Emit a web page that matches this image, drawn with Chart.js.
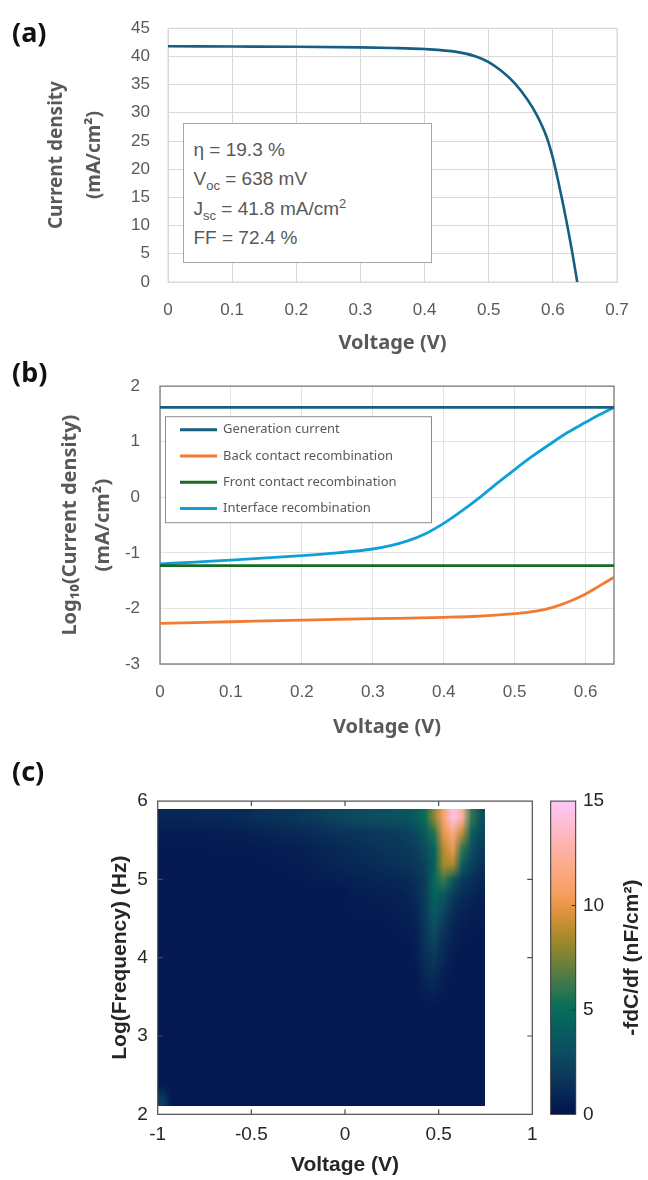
<!DOCTYPE html>
<html>
<head>
<meta charset="utf-8">
<script src="https://cdn.jsdelivr.net/npm/chart.js@4.4.1/dist/chart.umd.min.js"></script>
<style>
  html, body { margin: 0; padding: 0; background: #fff; }
  #page { position: relative; width: 648px; height: 1180px; overflow: hidden; }
  canvas { position: absolute; left: 0; }
  .lbl { position: absolute; left: 12px; font: bold 27px "Noto Sans", sans-serif; color: #111; line-height: 1; }
  #box {
    position: absolute; left: 183px; top: 123px; width: 249px; height: 140px;
    box-sizing: border-box; border: 1.5px solid #a6a6a6; background: #fff;
    color: #595959; font: 19px "Liberation Sans", Arial, sans-serif; line-height: 29.3px;
    padding: 11px 0 0 9.5px; white-space: nowrap;
  }
  #box sub { font-size: 13px; line-height: 0; vertical-align: -5px; }
  #box sup { font-size: 13px; line-height: 0; vertical-align: 7px; }
</style>
</head>
<body>
<div id="page">
  <canvas id="chartA" width="648" height="356" style="top:0"></canvas>
  <canvas id="chartB" width="648" height="383" style="top:356px"></canvas>
  <canvas id="chartC" width="648" height="441" style="top:739px"></canvas>
  <div class="lbl" style="top:18px">(a)</div>
  <div class="lbl" style="top:358px">(b)</div>
  <div class="lbl" style="top:757px">(c)</div>
  <div id="box">η = 19.3 %<br>V<sub>oc</sub> = 638 mV<br>J<sub>sc</sub> = 41.8 mA/cm<sup>2</sup><br>FF = 72.4 %</div>
</div>
<script>
// (a) J-V curve
const jvVoltage = [0, 0.1, 0.2, 0.3, 0.35, 0.4, 0.45, 0.48, 0.5, 0.52, 0.54, 0.56, 0.575, 0.59, 0.6, 0.61, 0.62, 0.63, 0.638];
const jvCurrent = [41.8, 41.75, 41.7, 41.6, 41.5, 41.3, 40.8, 40.0, 39.0, 37.4, 35.3, 32.4, 29.6, 25.8, 22.0, 17.0, 11.5, 5.4, 0];
const jvTicksX = [0, 0.1, 0.2, 0.3, 0.4, 0.5, 0.6, 0.7];
const jvTicksY = [0, 5, 10, 15, 20, 25, 30, 35, 40, 45];

// (b) log current densities
const flatVoltage = [0, 0.64];
const genCurrent = [1.62, 1.62];
const frontRecomb = [-1.23, -1.23];
const backVoltage = [0, 0.1, 0.2, 0.3, 0.4, 0.44, 0.5, 0.53, 0.555, 0.578, 0.6, 0.62, 0.64];
const backRecomb = [-2.27, -2.24, -2.21, -2.185, -2.16, -2.145, -2.095, -2.05, -1.975, -1.87, -1.74, -1.59, -1.44];
const ifaceVoltage = [0, 0.05, 0.1, 0.15, 0.2, 0.25, 0.3, 0.325, 0.35, 0.375, 0.4, 0.425, 0.45, 0.475, 0.5, 0.525, 0.55, 0.575, 0.6, 0.62, 0.64];
const interfaceRecomb = [-1.2, -1.165, -1.13, -1.09, -1.05, -1.0, -0.93, -0.87, -0.78, -0.65, -0.47, -0.25, -0.01, 0.25, 0.5, 0.74, 0.96, 1.17, 1.35, 1.49, 1.62];
const seriesNames = ['Generation current', 'Back contact recombination', 'Front contact recombination', 'Interface recombination'];
const seriesColors = ['#156082', '#f27a32', '#196b24', '#10a0d8'];
const logTicksX = [0, 0.1, 0.2, 0.3, 0.4, 0.5, 0.6];
const logTicksY = [-3, -2, -1, 0, 1, 2];

// (c) -fdC/df map
const hmVoltage = [-0.975, -0.925, -0.875, -0.825, -0.775, -0.725, -0.675, -0.625, -0.575, -0.525,
  -0.475, -0.425, -0.375, -0.325, -0.275, -0.225, -0.175, -0.125, -0.075, -0.025,
  0.025, 0.075, 0.125, 0.175, 0.225, 0.275, 0.325, 0.375, 0.425, 0.475, 0.525, 0.575, 0.625, 0.675, 0.725];
const hmLogFreq = [5.8, 5.6, 5.4, 5.2, 5.0, 4.8, 4.6, 4.4, 4.2, 4.0, 3.8, 3.6, 3.4, 3.2, 3.0, 2.8, 2.6, 2.4, 2.2];
const hmValues = [
  [0.9,0.9,0.9,0.9,1.0,1.0,1.0,1.1,1.1,1.2, 1.3,1.4,1.5,1.6,1.7,1.9,2.0,2.2,2.4,2.6, 2.8,2.9,3.0,3.1,3.2,3.3,3.5,3.9, 5.2,8.0,11.0,14.5,12.5,6.0,3.2],
  [0.5,0.5,0.5,0.5,0.5,0.6,0.6,0.6,0.7,0.7, 0.8,0.8,0.9,1.0,1.0,1.1,1.2,1.3,1.4,1.5, 1.6,1.7,1.8,1.9,2.0,2.1,2.3,2.7, 3.8,5.8,10.0,11.8,9.0,4.2,2.6],
  [0.35,0.35,0.35,0.35,0.35,0.4,0.4,0.4,0.4,0.4, 0.45,0.5,0.55,0.6,0.65,0.7,0.8,0.9,1.0,1.1, 1.2,1.3,1.4,1.5,1.6,1.7,1.9,2.2, 2.9,4.6,8.8,10.3,6.0,3.2,2.0],
  [0.3,0.3,0.3,0.3,0.3,0.3,0.3,0.3,0.3,0.3, 0.35,0.35,0.4,0.45,0.5,0.55,0.6,0.7,0.8,0.9, 1.0,1.05,1.1,1.2,1.3,1.4,1.5,1.8, 2.4,4.2,8.4,8.6,4.0,2.3,1.5],
  [0.3,0.3,0.3,0.3,0.3,0.3,0.3,0.3,0.3,0.3, 0.3,0.3,0.3,0.3,0.35,0.4,0.45,0.5,0.55,0.6, 0.7,0.75,0.8,0.85,0.9,1.0,1.1,1.4, 2.0,4.8,6.2,3.8,2.0,1.4,1.0],
  [0.3,0.3,0.3,0.3,0.3,0.3,0.3,0.3,0.3,0.3, 0.3,0.3,0.3,0.3,0.3,0.3,0.3,0.3,0.3,0.3, 0.5,0.5,0.55,0.6,0.65,0.7,0.8,1.1, 2.0,4.4,3.6,1.9,1.2,0.9,0.7],
  [0.3,0.3,0.3,0.3,0.3,0.3,0.3,0.3,0.3,0.3, 0.3,0.3,0.3,0.3,0.3,0.3,0.3,0.3,0.3,0.3, 0.4,0.4,0.4,0.45,0.5,0.55,0.6,0.9, 1.9,3.8,2.6,1.3,0.8,0.6,0.5],
  [0.3,0.3,0.3,0.3,0.3,0.3,0.3,0.3,0.3,0.3, 0.3,0.3,0.3,0.3,0.3,0.3,0.3,0.3,0.3,0.3, 0.3,0.3,0.3,0.3,0.4,0.45,0.5,0.7, 1.7,3.1,1.8,0.9,0.6,0.45,0.4],
  [0.3,0.3,0.3,0.3,0.3,0.3,0.3,0.3,0.3,0.3, 0.3,0.3,0.3,0.3,0.3,0.3,0.3,0.3,0.3,0.3, 0.3,0.3,0.3,0.3,0.3,0.3,0.4,0.6, 1.5,2.4,1.3,0.7,0.45,0.35,0.3],
  [0.3,0.3,0.3,0.3,0.3,0.3,0.3,0.3,0.3,0.3, 0.3,0.3,0.3,0.3,0.3,0.3,0.3,0.3,0.3,0.3, 0.3,0.3,0.3,0.3,0.3,0.3,0.3,0.5, 1.3,1.8,1.0,0.5,0.3,0.3,0.3],
  [0.3,0.3,0.3,0.3,0.3,0.3,0.3,0.3,0.3,0.3, 0.3,0.3,0.3,0.3,0.3,0.3,0.3,0.3,0.3,0.3, 0.3,0.3,0.3,0.3,0.3,0.3,0.3,0.3, 1.1,1.3,0.7,0.4,0.3,0.3,0.3],
  [0.3,0.3,0.3,0.3,0.3,0.3,0.3,0.3,0.3,0.3, 0.3,0.3,0.3,0.3,0.3,0.3,0.3,0.3,0.3,0.3, 0.3,0.3,0.3,0.3,0.3,0.3,0.3,0.3, 0.7,0.8,0.5,0.3,0.3,0.3,0.3],
  [0.3,0.3,0.3,0.3,0.3,0.3,0.3,0.3,0.3,0.3, 0.3,0.3,0.3,0.3,0.3,0.3,0.3,0.3,0.3,0.3, 0.3,0.3,0.3,0.3,0.3,0.3,0.3,0.3, 0.4,0.45,0.3,0.3,0.3,0.3,0.3],
  [0.3,0.3,0.3,0.3,0.3,0.3,0.3,0.3,0.3,0.3, 0.3,0.3,0.3,0.3,0.3,0.3,0.3,0.3,0.3,0.3, 0.3,0.3,0.3,0.3,0.3,0.3,0.3,0.3, 0.3,0.3,0.3,0.3,0.3,0.3,0.3],
  [0.3,0.3,0.3,0.3,0.3,0.3,0.3,0.3,0.3,0.3, 0.3,0.3,0.3,0.3,0.3,0.3,0.3,0.3,0.3,0.3, 0.3,0.3,0.3,0.3,0.3,0.3,0.3,0.3, 0.3,0.3,0.3,0.3,0.3,0.3,0.3],
  [0.3,0.3,0.3,0.3,0.3,0.3,0.3,0.3,0.3,0.3, 0.3,0.3,0.3,0.3,0.3,0.3,0.3,0.3,0.3,0.3, 0.3,0.3,0.3,0.3,0.3,0.3,0.3,0.3, 0.3,0.3,0.3,0.3,0.3,0.3,0.3],
  [0.3,0.3,0.3,0.3,0.3,0.3,0.3,0.3,0.3,0.3, 0.3,0.3,0.3,0.3,0.3,0.3,0.3,0.3,0.3,0.3, 0.3,0.3,0.3,0.3,0.3,0.3,0.3,0.3, 0.3,0.3,0.3,0.3,0.3,0.3,0.3],
  [0.3,0.3,0.3,0.3,0.3,0.3,0.3,0.3,0.3,0.3, 0.3,0.3,0.3,0.3,0.3,0.3,0.3,0.3,0.3,0.3, 0.3,0.3,0.3,0.3,0.3,0.3,0.3,0.3, 0.3,0.3,0.3,0.3,0.3,0.3,0.3],
  [2.0,0.3,0.3,0.3,0.3,0.3,0.3,0.3,0.3,0.3, 0.3,0.3,0.3,0.3,0.3,0.3,0.3,0.3,0.3,0.3, 0.3,0.3,0.3,0.3,0.3,0.3,0.3,0.3, 0.3,0.3,0.3,0.3,0.3,0.3,0.3]
];
const hmTicksX = [-1, -0.5, 0, 0.5, 1];
const hmTicksY = [2, 3, 4, 5, 6];
const cbTicks = [0, 5, 10, 15];
const cmapStops = [
  [0, [3, 18, 80]], [1.5, [10, 51, 89]], [3, [13, 77, 96]], [4.5, [6, 101, 93]], [5.2, [8, 110, 88]],
  [6.5, [74, 122, 72]], [7.5, [122, 130, 53]], [8.5, [168, 138, 42]], [9.5, [216, 146, 58]],
  [10.5, [247, 157, 92]], [12, [253, 171, 142]], [13.5, [253, 185, 195]], [15, [253, 201, 249]]
];

const GRAY = '#595959';
const DARK = '#262626';
const pts = (xs, ys) => xs.map((x, i) => ({ x: x, y: ys[i] }));
const setTicks = arr => scale => { scale.ticks = arr.map(v => ({ value: v })); };

function cmap(v) {
  v = Math.max(0, Math.min(15, v));
  for (let k = 1; k < cmapStops.length; k++) {
    const [v1, c1] = cmapStops[k];
    const [v0, c0] = cmapStops[k - 1];
    if (v <= v1) {
      const t = (v - v0) / (v1 - v0);
      return c0.map((c, n) => Math.round(c + (c1[n] - c) * t));
    }
  }
  return cmapStops[cmapStops.length - 1][1];
}

function framePlugin(id, color, width) {
  return {
    id: id,
    beforeDatasetsDraw(chart) {
      const a = chart.chartArea, ctx = chart.ctx;
      ctx.save();
      ctx.strokeStyle = color;
      ctx.lineWidth = width;
      ctx.strokeRect(a.left, a.top, a.right - a.left, a.bottom - a.top);
      ctx.restore();
    }
  };
}

Chart.defaults.font.family = '"Liberation Sans", Arial, sans-serif';

// ---------- (a) ----------
new Chart(document.getElementById('chartA'), {
  type: 'line',
  data: {
    datasets: [{
      data: pts(jvVoltage, jvCurrent),
      borderColor: '#156082',
      borderWidth: 2.6,
      pointRadius: 0,
      cubicInterpolationMode: 'monotone'
    }]
  },
  options: {
    responsive: false,
    animation: false,
    layout: { padding: { left: 0, right: 31, top: 27, bottom: 0 } },
    plugins: { legend: { display: false }, tooltip: { enabled: false } },
    scales: {
      x: {
        type: 'linear', min: 0, max: 0.7,
        afterBuildTicks: setTicks(jvTicksX),
        afterFit: s => { s.height = 74; },
        grid: { color: '#d9d9d9', drawTicks: false },
        border: { color: '#d9d9d9' },
        ticks: { color: GRAY, padding: 18, font: { size: 17 } },
        title: { display: true, text: 'Voltage (V)', color: GRAY, padding: { top: 0, bottom: 1 },
          font: { family: '"Noto Sans", sans-serif', size: 20, weight: 'bold' } }
      },
      y: {
        min: 0, max: 45,
        afterBuildTicks: setTicks(jvTicksY),
        afterFit: s => { s.width = 168; },
        grid: { color: '#d9d9d9', drawTicks: false },
        border: { color: '#d9d9d9' },
        ticks: { color: GRAY, padding: 18, font: { size: 17 } },
        title: { display: true, text: ['Current density', '(mA/cm²)'], color: GRAY, padding: { top: 38, bottom: 0 },
          font: { family: '"Noto Sans", sans-serif', size: 19, weight: 'bold', lineHeight: 2.0 } }
      }
    }
  },
  plugins: [framePlugin('frameA', '#d9d9d9', 1)]
});

// ---------- (b) ----------
const legendBoxB = {
  id: 'legendBoxB',
  afterDatasetsDraw(chart) {
    const ctx = chart.ctx, a = chart.chartArea;
    const bx = a.left + 5, by = a.top + 30, bw = 266, bh = 106;
    ctx.save();
    ctx.fillStyle = '#fff';
    ctx.fillRect(bx, by, bw, bh);
    ctx.strokeStyle = '#8c8c8c';
    ctx.lineWidth = 1;
    ctx.strokeRect(bx + 0.5, by + 0.5, bw, bh);
    ctx.font = '13px "Noto Sans", sans-serif';
    ctx.textBaseline = 'middle';
    chart.data.datasets.forEach((ds, i) => {
      const yy = by + 13.5 + i * 26.3;
      ctx.strokeStyle = ds.borderColor;
      ctx.lineWidth = 3;
      ctx.beginPath();
      ctx.moveTo(bx + 15, yy);
      ctx.lineTo(bx + 52, yy);
      ctx.stroke();
      ctx.fillStyle = GRAY;
      ctx.fillText(ds.label, bx + 58, yy);
    });
    ctx.restore();
  }
};

const bSeries = [
  pts(flatVoltage, genCurrent),
  pts(backVoltage, backRecomb),
  pts(flatVoltage, frontRecomb),
  pts(ifaceVoltage, interfaceRecomb)
];
new Chart(document.getElementById('chartB'), {
  type: 'line',
  data: {
    datasets: bSeries.map((s, i) => ({
      label: seriesNames[i],
      data: s,
      borderColor: seriesColors[i],
      borderWidth: 2.8,
      pointRadius: 0,
      cubicInterpolationMode: 'monotone'
    }))
  },
  options: {
    responsive: false,
    animation: false,
    layout: { padding: { left: 0, right: 34, top: 28, bottom: 0 } },
    plugins: { legend: { display: false }, tooltip: { enabled: false } },
    scales: {
      x: {
        type: 'linear', min: 0, max: 0.64,
        afterBuildTicks: setTicks(logTicksX),
        afterFit: s => { s.height = 75; },
        grid: { color: '#e3e3e3', drawTicks: false },
        border: { display: false },
        ticks: { color: GRAY, padding: 18, font: { size: 17 } },
        title: { display: true, text: 'Voltage (V)', color: GRAY, padding: { top: 0, bottom: 0 },
          font: { family: '"Noto Sans", sans-serif', size: 20, weight: 'bold' } }
      },
      y: {
        min: -3, max: 2,
        afterBuildTicks: setTicks(logTicksY),
        afterFit: s => { s.width = 160; },
        grid: { color: '#e3e3e3', drawTicks: false },
        border: { display: false },
        ticks: { color: GRAY, padding: 20, font: { size: 17 } },
        title: { display: true, text: ['Log₁₀(Current density)', '(mA/cm²)'], color: GRAY, padding: { top: 53.5, bottom: 0 },
          font: { family: '"Noto Sans", sans-serif', size: 20, weight: 'bold', lineHeight: 1.65 } }
      }
    }
  },
  plugins: [framePlugin('frameB', '#8a8a8a', 1.5), legendBoxB]
});

// ---------- (c) ----------
const heatmapPlugin = {
  id: 'heatmap',
  beforeDatasetsDraw(chart) {
    const xs = chart.scales.x, ys = chart.scales.y, ctx = chart.ctx;
    const nx = hmVoltage.length, ny = hmLogFreq.length;
    const off = document.createElement('canvas');
    off.width = nx;
    off.height = ny;
    const octx = off.getContext('2d');
    const img = octx.createImageData(nx, ny);
    for (let i = 0; i < ny; i++) {
      for (let j = 0; j < nx; j++) {
        const c = cmap(hmValues[i][j]);
        const k = (i * nx + j) * 4;
        img.data[k] = c[0]; img.data[k + 1] = c[1]; img.data[k + 2] = c[2]; img.data[k + 3] = 255;
      }
    }
    octx.putImageData(img, 0, 0);
    const dv = (hmVoltage[nx - 1] - hmVoltage[0]) / (nx - 1);
    const df = (hmLogFreq[0] - hmLogFreq[ny - 1]) / (ny - 1);
    const x0 = xs.getPixelForValue(hmVoltage[0] - dv / 2);
    const x1 = xs.getPixelForValue(hmVoltage[nx - 1] + dv / 2);
    const y0 = ys.getPixelForValue(hmLogFreq[0] + df / 2);
    const y1 = ys.getPixelForValue(hmLogFreq[ny - 1] - df / 2);
    ctx.save();
    ctx.imageSmoothingEnabled = true;
    ctx.drawImage(off, x0, y0, x1 - x0, y1 - y0);
    ctx.restore();
  },
  afterDraw(chart) {
    const ctx = chart.ctx, a = chart.chartArea;
    const xs = chart.scales.x, ys = chart.scales.y, cb = chart.scales.cb;
    ctx.save();
    // axes box with inward ticks
    ctx.strokeStyle = '#4d4d4d';
    ctx.lineWidth = 1.2;
    ctx.strokeRect(a.left, a.top, a.right - a.left, a.bottom - a.top);
    ctx.beginPath();
    hmTicksX.slice(1, -1).forEach(v => {
      const px = xs.getPixelForValue(v);
      ctx.moveTo(px, a.bottom); ctx.lineTo(px, a.bottom - 5);
      ctx.moveTo(px, a.top); ctx.lineTo(px, a.top + 5);
    });
    hmTicksY.slice(1, -1).forEach(v => {
      const py = ys.getPixelForValue(v);
      ctx.moveTo(a.left, py); ctx.lineTo(a.left + 5, py);
      ctx.moveTo(a.right, py); ctx.lineTo(a.right - 5, py);
    });
    ctx.stroke();
    // colorbar
    const cx0 = cb.left + 18.4, cw = 25;
    const top = cb.getPixelForValue(15), bot = cb.getPixelForValue(0);
    const grad = ctx.createLinearGradient(0, bot, 0, top);
    cmapStops.forEach(([v, c]) => grad.addColorStop(v / 15, 'rgb(' + c.join(',') + ')'));
    ctx.fillStyle = grad;
    ctx.fillRect(cx0, top, cw, bot - top);
    ctx.strokeStyle = '#333';
    ctx.lineWidth = 1;
    ctx.strokeRect(cx0, top, cw, bot - top);
    ctx.beginPath();
    cbTicks.slice(1, -1).forEach(v => {
      const py = cb.getPixelForValue(v);
      ctx.moveTo(cx0 + cw, py); ctx.lineTo(cx0 + cw - 4, py);
    });
    ctx.stroke();
    // colorbar label
    ctx.translate(cb.left + 99.7, (top + bot) / 2);
    ctx.rotate(-Math.PI / 2);
    ctx.fillStyle = DARK;
    ctx.font = 'bold 21px "Liberation Sans", Arial, sans-serif';
    ctx.textAlign = 'center';
    ctx.textBaseline = 'middle';
    ctx.fillText('-fdC/df (nF/cm²)', 0, 0);
    ctx.restore();
  }
};

new Chart(document.getElementById('chartC'), {
  type: 'scatter',
  data: { datasets: [{ data: [], pointRadius: 0 }] },
  options: {
    responsive: false,
    animation: false,
    layout: { padding: { left: 0, right: 0, top: 24.3, bottom: 0 } },
    plugins: { legend: { display: false }, tooltip: { enabled: false } },
    scales: {
      x: {
        type: 'linear', min: -1, max: 1,
        afterBuildTicks: setTicks(hmTicksX),
        afterFit: s => { s.height = 65.7; },
        grid: { display: false, drawTicks: false },
        border: { display: false },
        ticks: { color: DARK, padding: 9.3, font: { size: 19 }, callback: v => String(v) },
        title: { display: true, text: 'Voltage (V)', color: DARK, padding: { top: 0, bottom: 2.4 },
          font: { size: 21, weight: 'bold' } }
      },
      y: {
        type: 'linear', min: 2, max: 6,
        afterBuildTicks: setTicks(hmTicksY),
        afterFit: s => { s.width = 157.7; },
        grid: { display: false, drawTicks: false },
        border: { display: false },
        ticks: { color: DARK, padding: 10, font: { size: 19 }, callback: v => String(v) },
        title: { display: true, text: 'Log(Frequency) (Hz)', color: DARK, padding: { top: 107.4, bottom: 0 },
          font: { size: 21, weight: 'bold' } }
      },
      cb: {
        type: 'linear', position: 'right', min: 0, max: 15,
        afterBuildTicks: setTicks(cbTicks),
        afterFit: s => { s.width = 115.7; },
        grid: { display: false, drawTicks: false },
        border: { display: false },
        ticks: { color: DARK, padding: 50.7, font: { size: 19 }, callback: v => String(v) }
      }
    }
  },
  plugins: [heatmapPlugin]
});
</script>
</body>
</html>
